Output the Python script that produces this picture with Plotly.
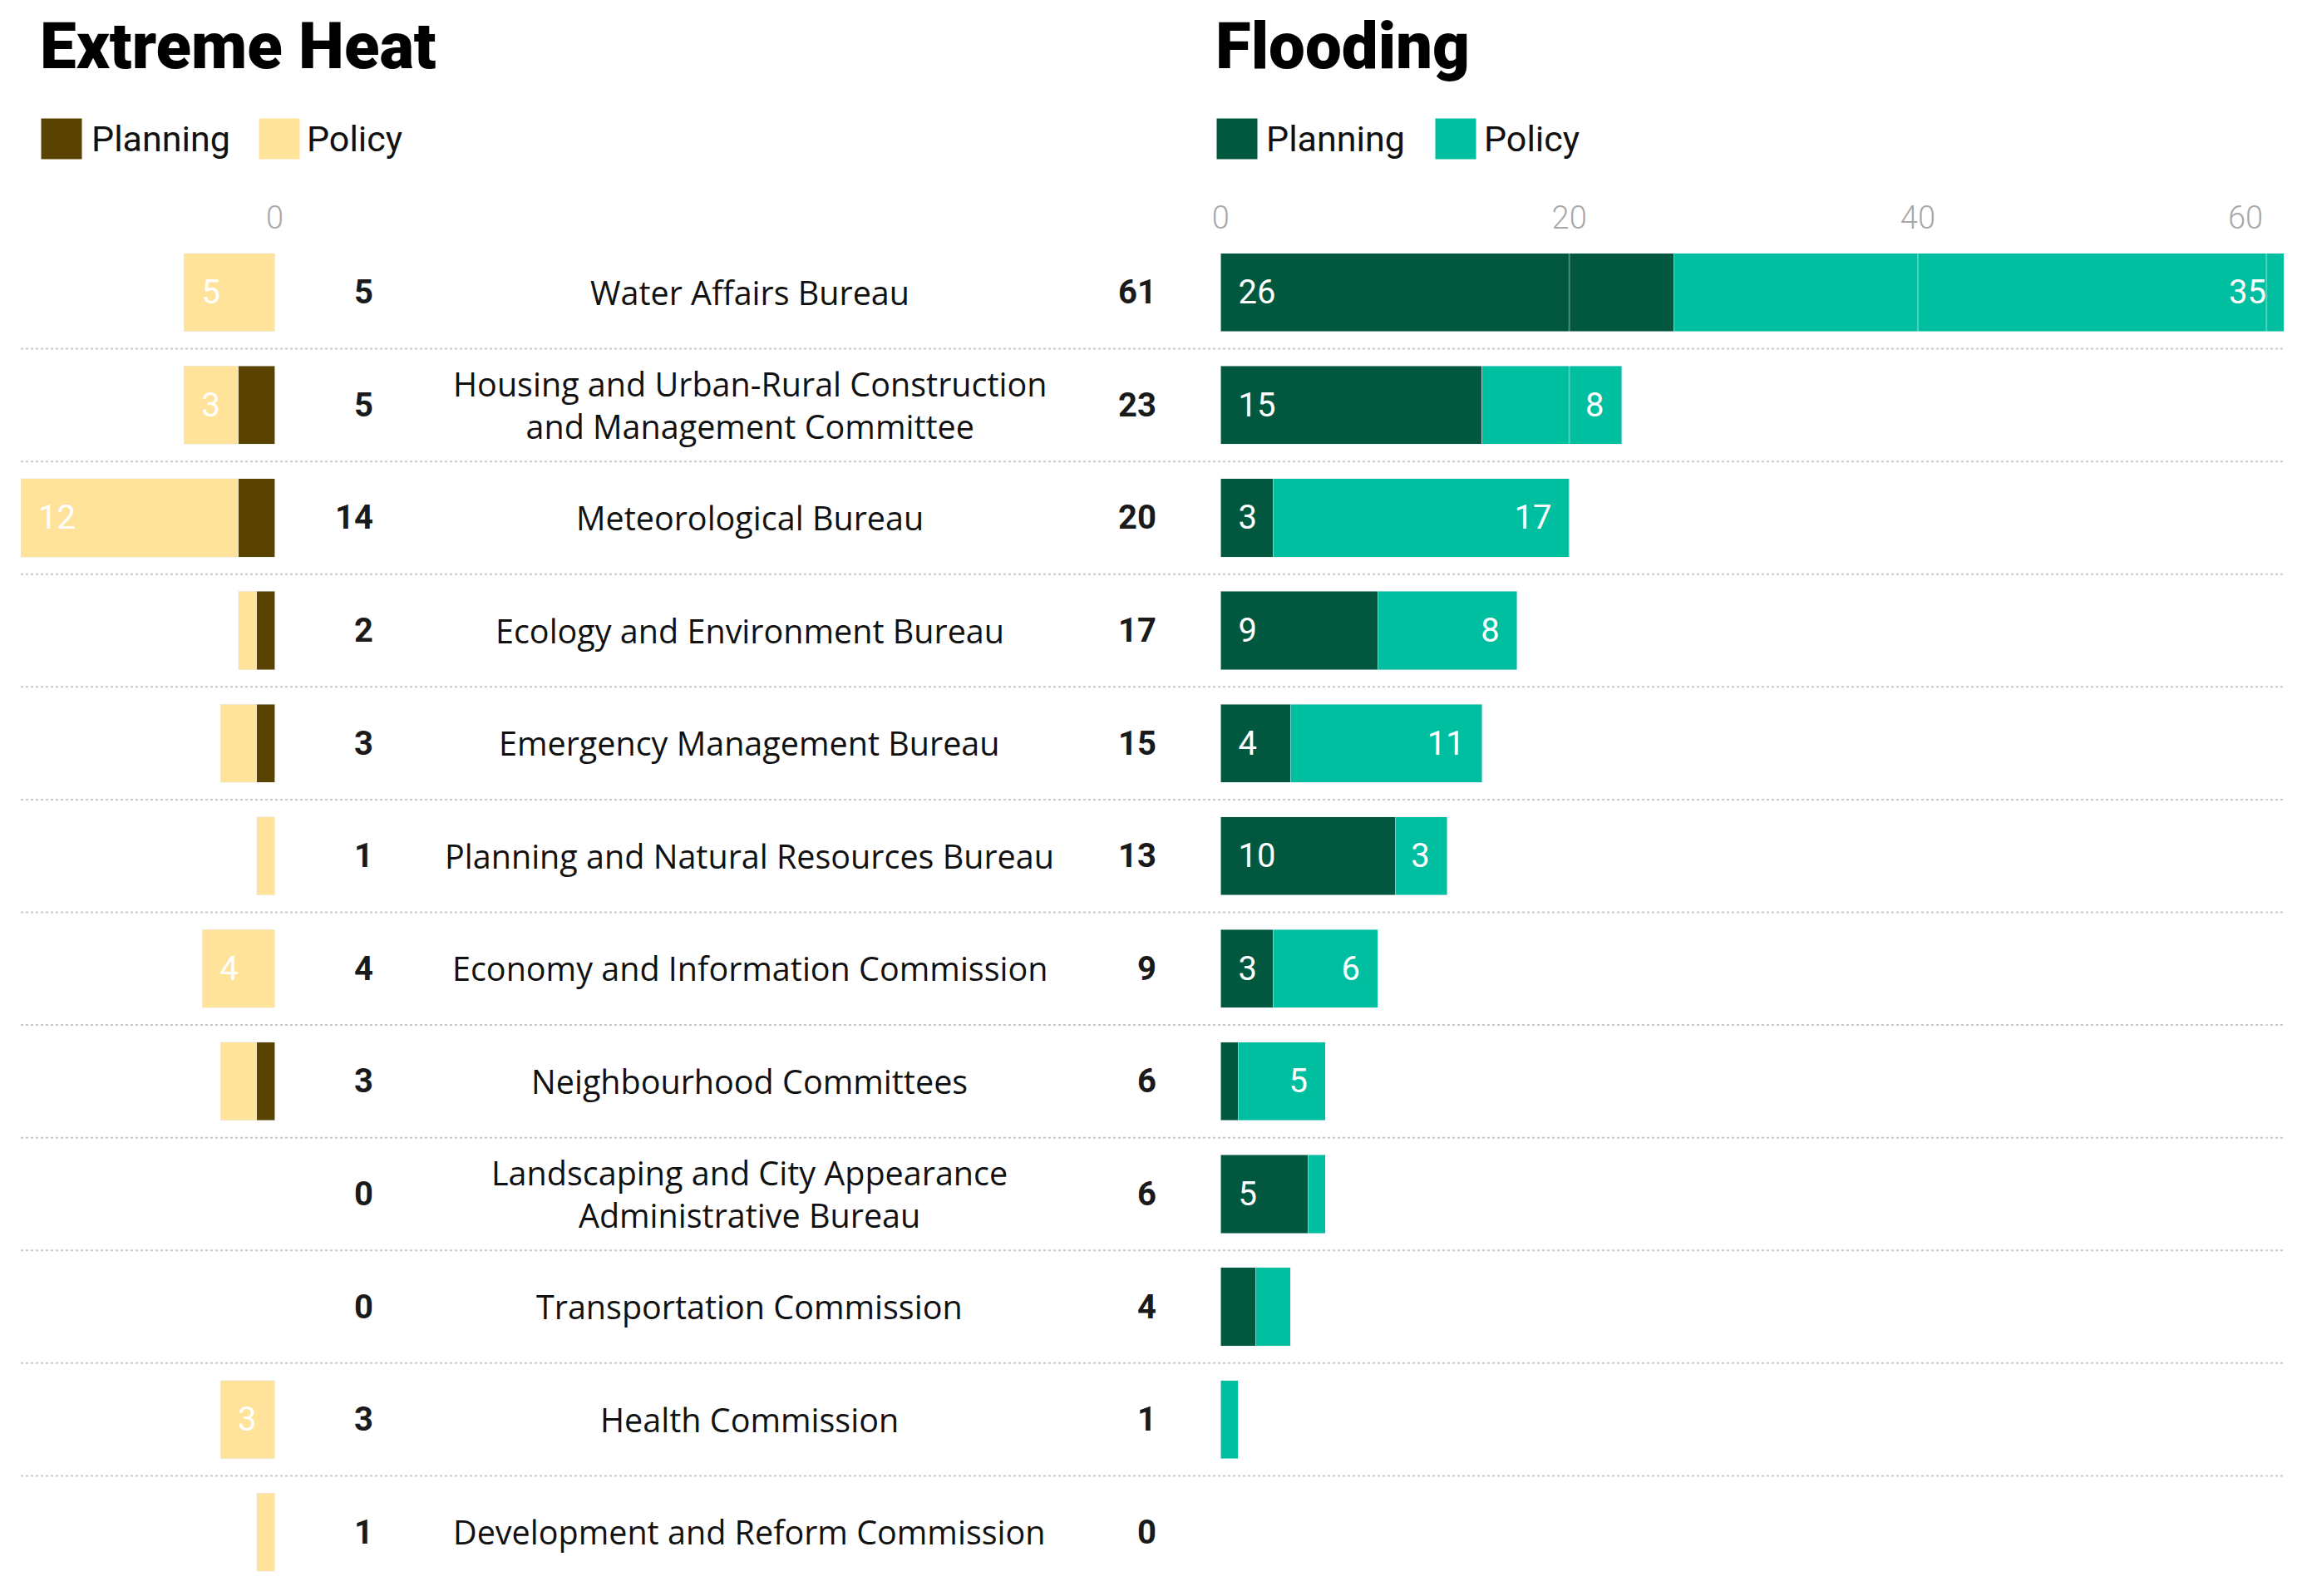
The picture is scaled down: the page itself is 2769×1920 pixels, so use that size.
"""
Extreme Heat / Flooding - department counts, mirrored stacked bars
"""
import plotly.graph_objects as go

departments = [
    "Water Affairs Bureau",
    "Housing and Urban-Rural Construction<br>and Management Committee",
    "Meteorological Bureau",
    "Ecology and Environment Bureau",
    "Emergency Management Bureau",
    "Planning and Natural Resources Bureau",
    "Economy and Information Commission",
    "Neighbourhood Committees",
    "Landscaping and City Appearance<br>Administrative Bureau",
    "Transportation Commission",
    "Health Commission",
    "Development and Reform Commission",
]
heat_planning = [0, 2, 2, 1, 1, 0, 0, 1, 0, 0, 0, 0]
heat_policy = [5, 3, 12, 1, 2, 1, 4, 2, 0, 0, 3, 1]
flood_planning = [26, 15, 3, 9, 4, 10, 3, 1, 5, 2, 0, 0]
flood_policy = [35, 8, 17, 8, 11, 3, 6, 5, 1, 2, 1, 0]
flood_ticks = [0, 20, 40, 60]

HEAT_DARK = '#5a4300'
HEAT_LIGHT = '#ffe39a'
FLOOD_DARK = '#02583f'
FLOOD_LIGHT = '#00bfa0'

W, H = 2769, 1920
TOP, BOTTOM = 276, 17
PLOT_H = H - TOP - BOTTOM

PAD = "\u00a0\u2009"


def px_x(x):
    return x / W


def px_y(y):
    # pixel from top of page -> paper coordinate
    return 1 + (TOP - y) / PLOT_H


def labels(values):
    return [f"{PAD}{v}{PAD}" if v >= 3 else "" for v in values]


def no_zero(values):
    # 0 값 막대는 그리지 않음
    return [v if v else None for v in values]


fig = go.Figure()

bar_font = dict(family='Roboto', size=40, color='white')

fig.add_trace(go.Bar(
    y=departments, x=no_zero(heat_planning), orientation='h', name='Planning',
    marker_color=HEAT_DARK, xaxis='x', yaxis='y',
    text=labels(heat_planning), textposition='inside', insidetextanchor='start',
    textangle=0, insidetextfont=bar_font, constraintext='none'
))
fig.add_trace(go.Bar(
    y=departments, x=no_zero(heat_policy), orientation='h', name='Policy',
    marker_color=HEAT_LIGHT, xaxis='x', yaxis='y',
    text=labels(heat_policy), textposition='inside', insidetextanchor='end',
    textangle=0, insidetextfont=bar_font, constraintext='none'
))
fig.add_trace(go.Bar(
    y=departments, x=no_zero(flood_planning), orientation='h', name='Planning',
    marker_color=FLOOD_DARK, xaxis='x2', yaxis='y',
    text=labels(flood_planning), textposition='inside', insidetextanchor='start',
    textangle=0, insidetextfont=bar_font, constraintext='none'
))
fig.add_trace(go.Bar(
    y=departments, x=no_zero(flood_policy), orientation='h', name='Policy',
    marker_color=FLOOD_LIGHT, xaxis='x2', yaxis='y',
    text=labels(flood_policy), textposition='inside', insidetextanchor='end',
    textangle=0, insidetextfont=bar_font, constraintext='none'
))

annotations = []

# 가운데 텍스트: 합계 + 부서명
total_font = dict(family='Roboto', size=40, color='#1a1a1a', weight='bold')
for dep, hp, hq, fp, fq in zip(departments, heat_planning, heat_policy,
                               flood_planning, flood_policy):
    annotations.append(dict(
        x=px_x(435), xref='paper', y=dep, yref='y', text=str(hp + hq),
        xanchor='right', yanchor='middle', showarrow=False, font=total_font
    ))
    annotations.append(dict(
        x=px_x(1385), xref='paper', y=dep, yref='y', text=str(fp + fq),
        xanchor='right', yanchor='middle', showarrow=False, font=total_font
    ))
    annotations.append(dict(
        x=px_x(890), xref='paper', y=dep, yref='y', text=dep,
        xanchor='center', yanchor='middle', align='center', showarrow=False,
        font=dict(family='Open Sans', size=39.5, color='#111111')
    ))

# 제목
title_font = dict(family='Roboto', size=78, color='black', weight=900)
annotations.append(dict(x=px_x(27), xref='paper', y=px_y(47), yref='paper',
                        text='Extreme Heat', xanchor='left', yanchor='middle',
                        showarrow=False, font=title_font))
annotations.append(dict(x=px_x(1453), xref='paper', y=px_y(47), yref='paper',
                        text='Flooding', xanchor='left', yanchor='middle',
                        showarrow=False, font=title_font))

# 범례 (큰 사각형)
legend_items = [
    (55, 90, 'Planning', HEAT_DARK),
    (320, 351, 'Policy', HEAT_LIGHT),
    (1481, 1514, 'Planning', FLOOD_DARK),
    (1746, 1778, 'Policy', FLOOD_LIGHT),
]
for sq_x, txt_x, label, color in legend_items:
    annotations.append(dict(x=px_x(sq_x), xref='paper', y=px_y(159), yref='paper',
                            text=' ', width=48, height=48, bgcolor=color,
                            borderpad=0, xanchor='center', yanchor='middle',
                            showarrow=False, font=dict(size=10)))
    annotations.append(dict(x=px_x(txt_x), xref='paper', y=px_y(159), yref='paper',
                            text=label, xanchor='left', yanchor='middle',
                            showarrow=False,
                            font=dict(family='Roboto', size=43, color='#111111')))

tick_font = dict(family='Roboto', size=38, color='#a8a8a8', weight=300)

# 마지막 눈금 라벨은 눈금선 왼쪽에 붙임
flood_ticktext = [str(t) for t in flood_ticks[:-1]] + ['']
annotations.append(dict(x=flood_ticks[-1], xref='x2', y=px_y(254), yref='paper',
                        text=str(flood_ticks[-1]), xanchor='right', yanchor='middle',
                        xshift=-2, showarrow=False, font=tick_font))

# 행 구분 점선
shapes = []
for i in range(len(departments) - 1):
    shapes.append(dict(type='line', xref='paper', yref='y',
                       x0=px_x(6), x1=px_x(2751), y0=i + 0.5, y1=i + 0.5,
                       line=dict(color='#c8c8c8', width=2, dash='dot')))

# 막대 위로 보이는 격자선
for t in flood_ticks[1:]:
    shapes.append(dict(type='line', xref='x2', yref='paper', x0=t, x1=t,
                       y0=0, y1=1, layer='above',
                       line=dict(color='rgba(255,255,255,0.3)', width=2)))

fig.update_layout(
    width=W, height=H,
    margin=dict(l=0, r=0, t=TOP, b=BOTTOM),
    barmode='stack',
    bargap=0.305,
    showlegend=False,
    plot_bgcolor='white',
    paper_bgcolor='white',
    xaxis=dict(domain=[px_x(6), px_x(314)], range=[14, 0], side='top',
               tickvals=[0], showgrid=False, zeroline=False, ticks='',
               tickfont=tick_font, anchor='y'),
    xaxis2=dict(domain=[px_x(1461), px_x(2750)], range=[0, 61], side='top',
                tickvals=flood_ticks, ticktext=flood_ticktext,
                showgrid=False, zeroline=False, ticks='',
                tickfont=tick_font, anchor='y'),
    yaxis=dict(categoryorder='array', categoryarray=departments,
               range=[len(departments) - 0.5, -0.5], showticklabels=False,
               showgrid=False, zeroline=False, domain=[0, 1]),
    annotations=annotations,
    shapes=shapes,
)

fig.write_html("out.html")
